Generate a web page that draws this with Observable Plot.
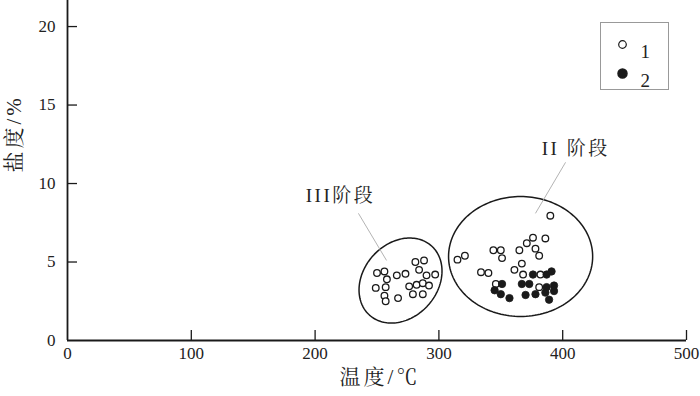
<!DOCTYPE html>
<html><head><meta charset="utf-8">
<script src="https://cdn.jsdelivr.net/npm/d3@7"></script>
<script src="https://cdn.jsdelivr.net/npm/@observablehq/plot@0.6"></script>
<style>body{margin:0;background:#fff}</style>
</head><body><div id="chart"></div>
<script>
// axis ticks
const xTicks = [0, 100, 200, 300, 400, 500];
const yTicks = [0, 5, 10, 15, 20];
const yTop = 21.66;
const xLabel = "温度/℃";
const yLabel = "盐度/%";

// Stage III inclusions (type 1, open)
const stage3Temp = [250, 256, 258, 249, 257, 256, 257, 266, 273, 267, 281, 288, 284, 290, 297, 276, 282, 287, 292, 279, 287];
const stage3Sal  = [4.3, 4.4, 3.9, 3.35, 3.4, 2.85, 2.5, 4.15, 4.25, 2.7, 5.0, 5.1, 4.5, 4.15, 4.2, 3.45, 3.55, 3.65, 3.5, 2.95, 2.95];

// Stage II inclusions type 1 (open)
const stage2OpenTemp = [390, 315, 321, 344, 350, 351, 365, 371, 376, 386, 378, 381, 334, 340, 361, 367, 368, 382, 346, 381];
const stage2OpenSal  = [7.95, 5.15, 5.4, 5.75, 5.75, 5.25, 5.75, 6.2, 6.55, 6.5, 5.85, 5.4, 4.35, 4.3, 4.5, 4.9, 4.2, 4.2, 3.6, 3.4];

// Stage II inclusions type 2 (filled)
const stage2FilledTemp = [345, 351, 350, 357, 367, 373, 370, 376, 387, 391, 378, 386, 387, 393, 393, 389];
const stage2FilledSal  = [3.2, 3.6, 2.95, 2.7, 3.6, 3.6, 2.9, 4.2, 4.2, 4.4, 2.95, 3.05, 3.4, 3.5, 3.15, 2.6];

// grouping ellipses: centre and two half-axis vectors (data units)
const ellipseNames = ["III", "II"];
const ellipseCx = [269, 366];
const ellipseCy = [3.82, 5.35];
const ellipseUx = [25.1, 58.2];
const ellipseUy = [2.2, 0];
const ellipseVx = [-22.2, 0];
const ellipseVy = [1.58, 3.82];

// stage labels and leader lines
const stageLabels = ["III阶段", "II 阶段"];
const stageLabelT = [220.5, 410.5];
const stageLabelS = [9.2, 12.2];
const leaderT1 = [235, 402.3];
const leaderS1 = [8.1, 11.35];
const leaderT2 = [257.7, 378];
const leaderS2 = [5.1, 8.1];

const legendLabels = ["1", "2"];

const font = '"Liberation Serif", "Noto Serif CJK SC", "Noto Sans CJK SC", serif';

const pts = (T, S) => T.map((t, i) => ({t, s: S[i]}));
const ellipsePts = [];
ellipseNames.forEach((n, k) => {
  const N = 160;
  for (let i = 0; i <= N; i++) {
    const a = 2 * Math.PI * i / N;
    ellipsePts.push({
      name: n,
      t: ellipseCx[k] + Math.cos(a) * ellipseUx[k] + Math.sin(a) * ellipseVx[k],
      s: ellipseCy[k] + Math.cos(a) * ellipseUy[k] + Math.sin(a) * ellipseVy[k]
    });
  }
});
const leaders = stageLabels.map((l, i) => ({x1: leaderT1[i], y1: leaderS1[i], x2: leaderT2[i], y2: leaderS2[i]}));
const labels = stageLabels.map((l, i) => ({l, t: stageLabelT[i], s: stageLabelS[i]}));

const W = 700, H = 396, mL = 67, mR = 14, mT = 0, mB = 56;
const frameW = W - mL - mR, frameH = H - mT - mB;
const ink = "#1a1a1a";

const chart = Plot.plot({
  width: W, height: H,
  marginLeft: mL, marginRight: mR, marginTop: mT, marginBottom: mB,
  x: {domain: [0, 500], axis: null},
  y: {domain: [0, yTop], axis: null},
  style: {fontFamily: font, background: "#fff"},
  marks: [
    // axes lines
    Plot.ruleX([0], {stroke: ink, strokeWidth: 1.8}),
    Plot.ruleY([0], {stroke: ink, strokeWidth: 1.8}),
    // inward ticks
    Plot.tickX(xTicks.slice(1), {x: d => d, stroke: ink, strokeWidth: 1.3, insetTop: frameH - 10}),
    Plot.tickY(yTicks.slice(1), {y: d => d, stroke: ink, strokeWidth: 1.3, insetRight: frameW - 10}),
    // tick labels
    Plot.text(xTicks, {x: d => d, frameAnchor: "bottom", dy: 18, text: d => String(d), fontSize: 17, fill: "#222"}),
    Plot.text(yTicks, {y: d => d, frameAnchor: "left", dx: -12, textAnchor: "end", text: d => String(d), fontSize: 17, fill: "#222"}),
    // axis titles
    Plot.text([xLabel], {frameAnchor: "bottom", dx: 3, dy: 43, text: d => d, fontSize: 21, fill: "#222"}),
    Plot.text([yLabel], {frameAnchor: "left", dx: -53, dy: 2, rotate: -90, text: d => d, fontSize: 21, fill: "#222"}),
    // ellipses
    Plot.line(ellipsePts, {x: "t", y: "s", z: "name", stroke: ink, strokeWidth: 1.5}),
    // leader lines
    Plot.link(leaders, {x1: "x1", y1: "y1", x2: "x2", y2: "y2", stroke: "#aaa", strokeWidth: 0.9}),
    // data
    Plot.dot(pts(stage3Temp, stage3Sal), {x: "t", y: "s", r: 3.3, fill: "#fff", stroke: ink, strokeWidth: 1.3}),
    Plot.dot(pts(stage2OpenTemp, stage2OpenSal), {x: "t", y: "s", r: 3.3, fill: "#fff", stroke: ink, strokeWidth: 1.3}),
    Plot.dot(pts(stage2FilledTemp, stage2FilledSal), {x: "t", y: "s", r: 3.7, fill: ink, stroke: ink, strokeWidth: 0.8}),
    // stage labels
    Plot.text(labels, {x: "t", y: "s", text: "l", fontSize: 19, fill: "#222"}),
    // legend
    Plot.frame({stroke: "#999", strokeWidth: 1, insetLeft: 533, insetRight: 18, insetTop: 22, insetBottom: frameH - 89}),
    Plot.dot([legendLabels[0]], {frameAnchor: "top-right", dx: -64, dy: 44, r: 3.8, fill: "#fff", stroke: ink, strokeWidth: 1.2}),
    Plot.dot([legendLabels[1]], {frameAnchor: "top-right", dx: -64, dy: 73, r: 4.5, fill: ink, stroke: ink}),
    Plot.text([legendLabels[0]], {frameAnchor: "top-right", dx: -46, dy: 44, textAnchor: "start", text: d => d, fontSize: 19, fill: "#222"}),
    Plot.text([legendLabels[1]], {frameAnchor: "top-right", dx: -46, dy: 73, textAnchor: "start", text: d => d, fontSize: 19, fill: "#222"})
  ]
});
// letter spacing for the spaced-out CJK labels
const spaced = new Map([[xLabel, "3px"], [yLabel, "3px"], [stageLabels[0], "2.5px"], [stageLabels[1], "2.5px"]]);
d3.select(chart).selectAll("text").each(function () {
  const t = this.textContent;
  if (spaced.has(t)) this.style.letterSpacing = spaced.get(t);
});
document.getElementById("chart").appendChild(chart);
</script>
</body></html>
